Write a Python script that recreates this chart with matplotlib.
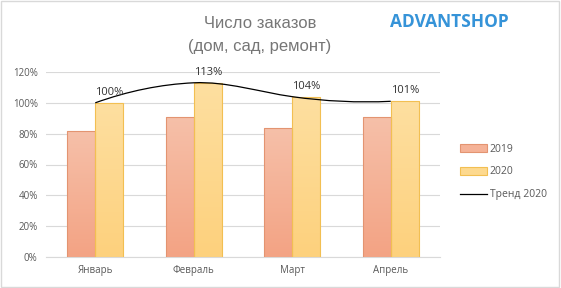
import numpy as np
import matplotlib.pyplot as plt
from matplotlib.path import Path
from matplotlib.patches import PathPatch, Rectangle
from matplotlib.colors import LinearSegmentedColormap
from matplotlib.lines import Line2D
from matplotlib.ticker import FuncFormatter

plt.rcParams['font.family'] = ['Open Sans', 'DejaVu Sans']

# Data
months = ['Январь', 'Февраль', 'Март', 'Апрель']
orders_2019 = [82, 91, 84, 91]
orders_2020 = [100, 113, 104, 101]
labels_2020 = ['100%', '113%', '104%', '101%']

grey = '#595959'

fig = plt.figure(figsize=(5.61, 2.88), dpi=100)
ax = fig.add_axes([46 / 561, 1 - 257 / 288, 394 / 561, 185 / 288])

x = np.arange(len(months))
w = 0.285

cm19 = LinearSegmentedColormap.from_list('c19', ['#f3a384', '#f6c0a9'])
cm20 = LinearSegmentedColormap.from_list('c20', ['#fdd17d', '#fedfa0'])
grad = np.linspace(0, 1, 64).reshape(-1, 1)

bars19 = ax.bar(x - w / 2, orders_2019, w, facecolor='none', edgecolor='#e39471', linewidth=0.8, zorder=3)
bars20 = ax.bar(x + w / 2, orders_2020, w, facecolor='none', edgecolor='#f2bf52', linewidth=0.8, zorder=3)

for bars, cmap in ((bars19, cm19), (bars20, cm20)):
    for b in bars:
        x0 = b.get_x()
        im = ax.imshow(grad, cmap=cmap, origin='lower', aspect='auto',
                       extent=[x0, x0 + b.get_width(), 0, b.get_height()], zorder=2)
        im.set_clip_path(b)

# smoothed trend line through the 2020 values (cubic hermite as bezier)
yv = np.array(orders_2020, dtype=float)
n = len(yv)
m = np.zeros(n)
m[1:-1] = 0.75 * (yv[2:] - yv[:-2])
m[0] = 2 * (yv[1] - yv[0]) - m[1]
m[-1] = 2 * (yv[-1] - yv[-2]) - m[-2]
verts = [(x[0], yv[0])]
codes = [Path.MOVETO]
for i in range(n - 1):
    verts += [(x[i] + 1 / 3, yv[i] + m[i] / 3),
              (x[i + 1] - 1 / 3, yv[i + 1] - m[i + 1] / 3),
              (x[i + 1], yv[i + 1])]
    codes += [Path.CURVE4] * 3
ax.add_patch(PathPatch(Path(verts, codes), facecolor='none', edgecolor='black', linewidth=0.9, zorder=4))

for xi, v, lab in zip(x, orders_2020, labels_2020):
    ax.annotate(lab, (xi + w / 2, v), xytext=(0, 3.5), textcoords='offset points',
                ha='center', va='bottom', fontsize=8, color='#333333', zorder=5)

ax.set_xlim(-0.5, 3.5)
ax.set_ylim(0, 120)
ax.set_yticks(np.arange(0, 121, 20))
ax.yaxis.set_major_formatter(FuncFormatter(lambda v, p: f'{int(v)}%'))
ax.set_xticks(x)
ax.set_xticklabels(months)
ax.tick_params(axis='both', length=0, labelsize=7, labelcolor=grey, pad=6)
ax.grid(axis='y', color='#d9d9d9', linewidth=0.8, zorder=0)
for s in ['top', 'right', 'left']:
    ax.spines[s].set_visible(False)
ax.spines['bottom'].set_color('#d9d9d9')

# Title and logo
fig.text(260 / 561, 1 - 23 / 288, 'Число заказов', ha='center', va='center',
         fontsize=12, color='#767676', family=['Liberation Sans', 'DejaVu Sans'])
fig.text(260 / 561, 1 - 47 / 288, '(дом, сад, ремонт)', ha='center', va='center',
         fontsize=12, color='#767676', family=['Liberation Sans', 'DejaVu Sans'])
fig.text(449 / 561, 1 - 22 / 288, 'ADVANTSHOP', ha='center', va='center',
         fontsize=12.5, fontweight='bold', color='#3593d8')

# Legend
handles = [Rectangle((0, 0), 1, 1, facecolor='#f5b297', edgecolor='#e39471', linewidth=0.8),
           Rectangle((0, 0), 1, 1, facecolor='#fdd98f', edgecolor='#f2bf52', linewidth=0.8),
           Line2D([], [], color='black', linewidth=0.9)]
fig.legend(handles, ['2019', '2020', 'Тренд 2020'], loc='center left',
           bbox_to_anchor=(451 / 561, 1 - 172 / 288), frameon=False, fontsize=7.5,
           labelcolor=grey, handlelength=2.6, handleheight=0.7, handletextpad=0.2,
           labelspacing=1.15)

# chart border
fig.patches.append(Rectangle((0.002, 0.004), 0.994, 0.992, transform=fig.transFigure,
                             facecolor='none', edgecolor='#d9d9d9', linewidth=1.0))

fig.savefig('out.png', dpi=100)
